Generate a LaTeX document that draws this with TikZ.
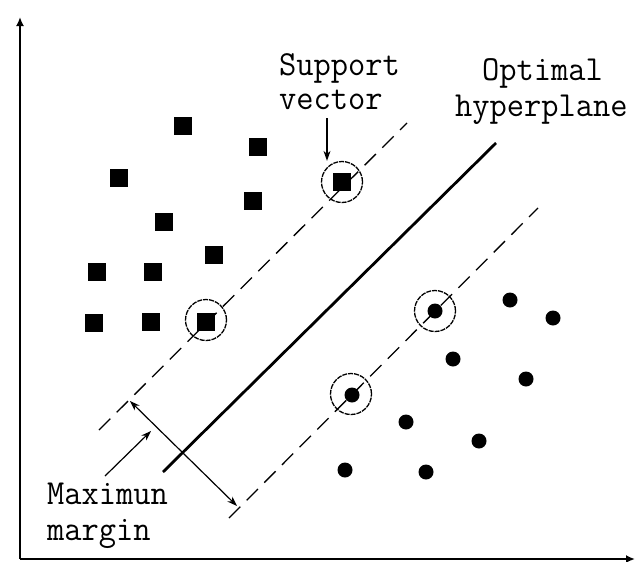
\documentclass[tikz,border=0pt]{standalone}
\usepackage{fontspec}
\usetikzlibrary{arrows.meta}
\tikzset{
  sq/.style={fill=black, minimum size=18pt, inner sep=0pt, outer sep=0pt},
  dt/.style={circle, fill=black, minimum size=15pt, inner sep=0pt, outer sep=0pt},
  sv/.style={circle, draw=black, line width=1.3pt, dash pattern=on 5pt off 1pt, minimum size=41pt, inner sep=0pt},
  axis/.style={line width=2pt, -{Latex[length=9pt,width=8pt]}},
  marginline/.style={line width=1.3pt, dash pattern=on 16pt off 9pt},
  hyper/.style={line width=2.8pt},
  ptr/.style={line width=1.2pt, -{Stealth[length=10pt,width=7pt]}},
  lbl/.style={font=\ttfamily\fontsize{33.5}{40}\selectfont, inner sep=0pt, anchor=base west, yscale=1.05, transform shape}
}
\begin{document}
\begin{tikzpicture}[x=1pt,y=-1pt]
\useasboundingbox (0,0) rectangle (637,562);
% axes
\coordinate (O) at (20,559);
\coordinate (Ytip) at (20,17);
\coordinate (Xtip) at (635,559);
\draw[axis] (O) -- (Ytip);
\draw[axis] (O) -- (Xtip);
% squares
\node[sq] (s1) at (183,126) {};
\node[sq] (s2) at (258,147) {};
\node[sq] (s3) at (119,178) {};
\node[sq] (s4) at (253,201) {};
\node[sq] (s5) at (164,222) {};
\node[sq] (s6) at (214,255) {};
\node[sq] (s7) at (97,272) {};
\node[sq] (s8) at (153,272) {};
\node[sq] (s9) at (94,323) {};
\node[sq] (s10) at (151,322) {};
\node[sq] (s11) at (206,322) {};
\node[sq] (s12) at (342,182) {};
% dots
\node[dt] (d1) at (435,311) {};
\node[dt] (d2) at (510,300) {};
\node[dt] (d3) at (553,318) {};
\node[dt] (d4) at (453,359) {};
\node[dt] (d5) at (526,379) {};
\node[dt] (d6) at (352,395) {};
\node[dt] (d7) at (406,422) {};
\node[dt] (d8) at (479,441) {};
\node[dt] (d9) at (345,470) {};
\node[dt] (d10) at (426,472) {};
% support vector circles
\node[sv] (c1) at (206,320) {};
\node[sv] (c2) at (342,182) {};
\node[sv] (c3) at (435,311) {};
\node[sv] (c4) at (351,394) {};
% margin lines
\coordinate (u1) at (99,430);
\coordinate (u2) at (407,123);
\coordinate (l1) at (229,518);
\coordinate (l2) at (538,208);
\draw[marginline] (u1) -- (u2);
\draw[marginline] (l1) -- (l2);
% hyperplane
\coordinate (h1) at (163,472);
\coordinate (h2) at (496,143);
\draw[hyper] (h1) -- (h2);
% maximum margin arrow
\coordinate (m1) at (130,401);
\coordinate (m2) at (237,506);
\draw[line width=1.2pt, {Stealth[length=10pt,width=7pt]}-{Stealth[length=10pt,width=7pt]}] (m1) -- (m2);
% labels
\node[lbl] (tsup) at (279,75) {Support};
\node[lbl] (tvec) at (279,109) {vector};
\node[lbl] (topt) at (482,80) {Optimal};
\node[lbl] (thyp) at (455,116) {hyperplane};
\node[lbl] (tmax) at (47,504) {Maximun};
\node[lbl] (tmar) at (47,540) {margin};
% pointers
\coordinate (p1) at (105,476);
\coordinate (p2) at (151,431);
\draw[ptr] (p1) -- (p2);
\coordinate (a1) at (327,118);
\draw[ptr] (a1) -- (c2.north -| a1);
\end{tikzpicture}
\end{document}
